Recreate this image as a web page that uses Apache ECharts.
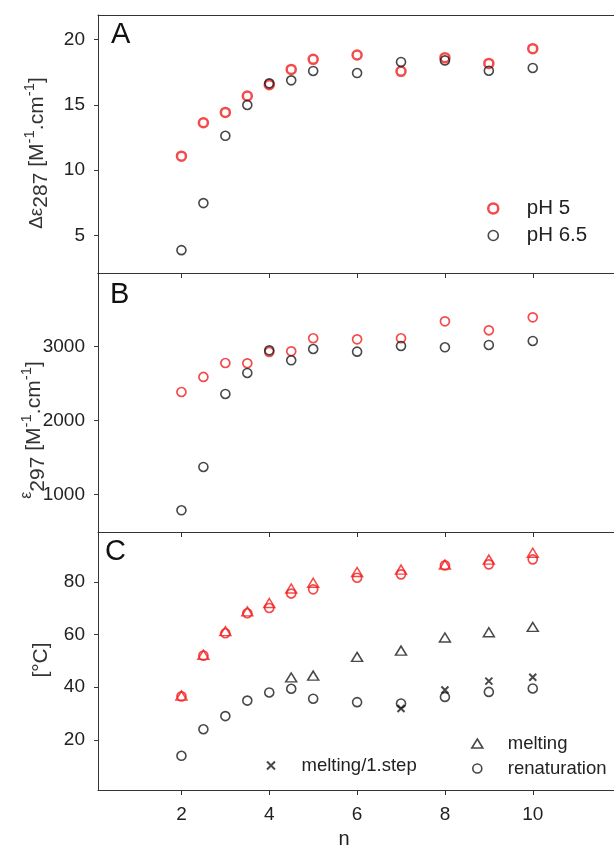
<!DOCTYPE html>
<html>
<head>
<meta charset="utf-8">
<script src="https://cdn.jsdelivr.net/npm/echarts/dist/echarts.min.js"></script>
<style>
html,body{margin:0;padding:0;background:#fff;}
#chart{width:614px;height:845px;}
</style>
</head>
<body>
<div id="chart"></div>
<script>
// ---- data ----
const n = [2, 2.5, 3, 3.5, 4, 4.5, 5, 6, 7, 8, 9, 10];
// Panel A: Δε287
const dEps287_pH5  = [11.07, 13.63, 14.42, 15.68, 16.55, 17.72, 18.49, 18.82, 17.57, 18.62, 18.18, 19.31];
const dEps287_pH65 = [3.86, 7.47, 12.63, 14.99, 16.65, 16.88, 17.60, 17.44, 18.29, 18.41, 17.62, 17.83];
// Panel B: ε297
const eps297_pH5  = [2387, 2590, 2779, 2775, 2928, 2937, 3113, 3099, 3113, 3342, 3221, 3396];
const eps297_pH65 = [788, 1374, 2360, 2644, 2950, 2815, 2968, 2932, 3009, 2991, 3023, 3077];
// Panel C: temperatures
const renat_pH5 = [36.5, 52.0, 60.5, 68.1, 70.1, 75.6, 77.2, 81.6, 82.9, 86.3, 86.7, 88.6];
const melt_pH5  = [36.8, 52.3, 61.3, 68.8, 72.0, 77.5, 79.7, 83.8, 84.7, 86.6, 88.5, 91.1];
const renat_pH65 = [13.9, 24.0, 29.0, 34.9, 38.0, 39.4, 35.6, 34.3, 33.8, 36.3, 38.2, 39.5];
const nMelt_pH65 = [4.5, 5, 6, 7, 8, 9, 10];
const melt_pH65  = [43.7, 44.4, 51.5, 53.9, 58.9, 60.9, 62.9];
const nStep1 = [7, 8, 9, 10];
const meltStep1 = [31.9, 38.9, 42.3, 43.8];
// ticks
const xTicks = [2, 4, 6, 8, 10];
const yTicksA = [5, 10, 15, 20];
const yTicksB = [1000, 2000, 3000];
const yTicksC = [20, 40, 60, 80];

// ---- style ----
const RED = '#f21d1d';
const BLK = '#1a1a1a';
const AX = '#333';
const TXT = '#222';
const FONT = '"Liberation Sans", Arial, sans-serif';
const pairs = (xs, ys) => xs.map((x, i) => [x, ys[i]]);
const CROSS = 'path://M0,0L10,10M10,0L0,10';

const chart = echarts.init(document.getElementById('chart'), null, {renderer: 'canvas'});

const xBase = {
  type: 'value', min: 0.1, max: 11.85,
  splitLine: {show: false},
  axisLine: {show: true, lineStyle: {color: AX, width: 1}},
  axisTick: {show: false},
  axisLabel: {show: false}
};
const topTicks = {show: true, inside: true, length: 5, customValues: xTicks, lineStyle: {color: AX}};
const yBase = (gi, min, max, ticks) => ({
  type: 'value', gridIndex: gi, min: min, max: max,
  splitLine: {show: false},
  axisLine: {show: true, lineStyle: {color: AX, width: 1}},
  axisTick: {show: true, inside: false, length: 4, customValues: ticks, lineStyle: {color: AX}},
  axisLabel: {show: true, customValues: ticks, fontSize: 19, color: TXT, fontFamily: FONT, margin: 13,
    formatter: v => String(v)}
});

const circ = (color, bw) => ({color: 'rgba(0,0,0,0)', borderColor: color, borderWidth: bw});
const sc = (name, xi, yi, data, symbol, size, style, z) => ({
  type: 'scatter', name: name, xAxisIndex: xi, yAxisIndex: yi, data: data,
  symbol: symbol, symbolSize: size, itemStyle: style, z: z || 2,
  emphasis: {disabled: true}, animation: false
});

const titleRich = {
  a: {fontSize: 21, lineHeight: 30, fill: '#333', fontFamily: FONT},
  d: {fontSize: 19, lineHeight: 30, fill: '#333', fontFamily: FONT},
  e: {fontSize: 16, lineHeight: 16, verticalAlign: 'top', fill: '#333', fontFamily: FONT},
  s: {fontSize: 21, lineHeight: 25, verticalAlign: 'bottom', fill: '#333', fontFamily: FONT},
  p: {fontSize: 15, lineHeight: 15, verticalAlign: 'top', fill: '#333', fontFamily: FONT}
};
const txt = (s) => Object.assign({fontFamily: FONT, fill: '#111', align: 'left', verticalAlign: 'middle', textAlign: 'left', textVerticalAlign: 'middle'}, s);
const gridBase = {left: 98, right: 0, containLabel: false, outerBoundsMode: 'none'};

const option = {
  animation: false,
  textStyle: {fontFamily: FONT},
  grid: [
    Object.assign({}, gridBase, {top: 15, height: 258}),
    Object.assign({}, gridBase, {top: 273, height: 259}),
    Object.assign({}, gridBase, {top: 532, height: 258})
  ],
  xAxis: [
    Object.assign({}, xBase, {gridIndex: 0, position: 'bottom'}),
    Object.assign({}, xBase, {gridIndex: 0, position: 'top'}),
    Object.assign({}, xBase, {gridIndex: 1, position: 'top', axisTick: topTicks}),
    Object.assign({}, xBase, {gridIndex: 1, position: 'bottom', axisLine: {show: false}}),
    Object.assign({}, xBase, {gridIndex: 2, position: 'top', axisTick: topTicks}),
    Object.assign({}, xBase, {
      gridIndex: 2, position: 'bottom',
      axisTick: {show: true, inside: false, length: 5, customValues: xTicks, lineStyle: {color: AX}},
      axisLabel: {show: true, customValues: xTicks, fontSize: 19, color: TXT, fontFamily: FONT, margin: 15},
      name: 'n', nameLocation: 'middle', nameGap: 39,
      nameTextStyle: {fontSize: 20, color: TXT, fontFamily: FONT, padding: [0, 24, 0, 0]}
    })
  ],
  yAxis: [
    yBase(0, 2.11, 21.89, yTicksA),
    yBase(1, 495, 3995, yTicksB),
    yBase(2, 0.9, 99, yTicksC)
  ],
  legend: [
    {
      orient: 'vertical', left: 482, top: 193, itemWidth: 11, itemHeight: 10, itemGap: 6,
      textStyle: {fontSize: 20.5, color: TXT, fontFamily: FONT, padding: [0, 0, 0, 23]},
      selectedMode: false,
      data: [
        {name: 'pH 5', icon: 'circle', itemStyle: circ(RED, 2.5)},
        {name: 'pH 6.5', icon: 'circle', itemStyle: circ(BLK, 1.6)}
      ]
    },
    {
      orient: 'vertical', left: 261, top: 751, itemWidth: 9, itemHeight: 8, itemGap: 6,
      textStyle: {fontSize: 18.5, color: TXT, fontFamily: FONT, padding: [0, 0, 0, 21]},
      selectedMode: false,
      data: [{name: 'melting/1.step', icon: CROSS, itemStyle: {color: 'rgba(0,0,0,0)', borderColor: BLK, borderWidth: 2}}]
    },
    {
      orient: 'vertical', left: 466, top: 729, itemWidth: 11, itemHeight: 9, itemGap: 6,
      textStyle: {fontSize: 18.5, color: TXT, fontFamily: FONT, padding: [0, 0, 0, 20]},
      selectedMode: false,
      data: [
        {name: 'melting', icon: 'triangle', itemStyle: circ(BLK, 1.6)},
        {name: 'renaturation', icon: 'circle', itemStyle: circ(BLK, 1.6)}
      ]
    }
  ],
  graphic: [
    {type: 'text', x: 111, y: 35, style: txt({text: 'A', fontSize: 29})},
    {type: 'text', x: 110, y: 295, style: txt({text: 'B', fontSize: 29})},
    {type: 'text', x: 105, y: 552, style: txt({text: 'C', fontSize: 29})},
    {type: 'text', x: 37, y: 153, rotation: Math.PI / 2, style: {
      text: '{d|Δε}{s|287}{a| [M}{p|-1}{a|.cm}{p|-1}{a|]}',
      fontFamily: FONT, fill: '#333', align: 'center', verticalAlign: 'middle', textAlign: 'center', textVerticalAlign: 'middle',
      rich: titleRich
    }},
    {type: 'text', x: 34, y: 430, rotation: Math.PI / 2, style: {
      text: '{e|ε}{s|297}{a| [M}{p|-1}{a|.cm}{p|-1}{a|]}',
      fontFamily: FONT, fill: '#333', align: 'center', verticalAlign: 'middle', textAlign: 'center', textVerticalAlign: 'middle',
      rich: titleRich
    }},
    {type: 'text', x: 41, y: 660, rotation: Math.PI / 2, style: {
      text: '[°C]', fontSize: 21, fontFamily: FONT, fill: '#333', align: 'center', verticalAlign: 'middle', textAlign: 'center', textVerticalAlign: 'middle'
    }}
  ],
  series: [
    sc('pH 5', 0, 0, pairs(n, dEps287_pH5), 'circle', 9, circ(RED, 2.5)),
    sc('pH 6.5', 0, 0, pairs(n, dEps287_pH65), 'circle', 9, circ(BLK, 1.6), 3),
    sc('pH 5', 2, 1, pairs(n, eps297_pH5), 'circle', 9, circ(RED, 1.7)),
    sc('pH 6.5', 2, 1, pairs(n, eps297_pH65), 'circle', 9, circ(BLK, 1.6), 3),
    sc('melting pH 5', 4, 2, pairs(n, melt_pH5), 'triangle', [11, 9], circ(RED, 1.5)),
    sc('renaturation pH 5', 4, 2, pairs(n, renat_pH5), 'circle', 9, circ(RED, 1.7), 3),
    sc('melting', 4, 2, pairs(nMelt_pH65, melt_pH65), 'triangle', [11, 9], circ(BLK, 1.5)),
    sc('renaturation', 4, 2, pairs(n, renat_pH65), 'circle', 9, circ(BLK, 1.6), 3),
    sc('melting/1.step', 4, 2, pairs(nStep1, meltStep1), CROSS, 7, {color: 'rgba(0,0,0,0)', borderColor: BLK, borderWidth: 2}, 2)
  ]
};
chart.setOption(option);
</script>
</body>
</html>
